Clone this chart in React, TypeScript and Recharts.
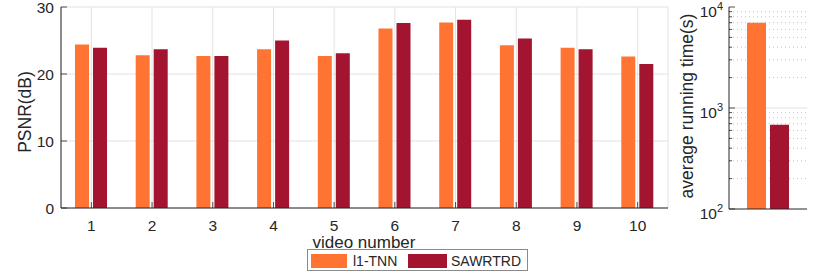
import React from 'react';
import { BarChart, Bar, XAxis, YAxis, CartesianGrid, ReferenceLine } from 'recharts';

const VIDEOS = ['1', '2', '3', '4', '5', '6', '7', '8', '9', '10'];
const PSNR_L1_TNN = [24.4, 22.8, 22.7, 23.7, 22.7, 26.8, 27.7, 24.3, 23.9, 22.6];
const PSNR_SAWRTRD = [23.9, 23.7, 22.7, 25.0, 23.1, 27.6, 28.1, 25.3, 23.7, 21.5];
const TIME_L1_TNN = 7000;
const TIME_SAWRTRD = 684;
const SERIES = ['l1-TNN', 'SAWRTRD'];
const PSNR_TICKS = [0, 10, 20, 30];
const TIME_MAJOR = [100, 1000, 10000];
const TIME_MINOR = [200, 300, 400, 500, 600, 700, 800, 900, 2000, 3000, 4000, 5000, 6000, 7000, 8000, 9000];

const ORANGE = '#FF7433';
const DARK_RED = '#A2142F';
const AXIS = '#262626';
const TEXT = '#262626';
const GRID = '#e2e2e2';
const FONT = '"Liberation Sans", Arial, Helvetica, sans-serif';

const psnrData = VIDEOS.map((v, i) => ({ video: v, l1: PSNR_L1_TNN[i], saw: PSNR_SAWRTRD[i] }));
const timeData = [{ name: 'avg', l1: TIME_L1_TNN, saw: TIME_SAWRTRD }];
const timeTicks = [...TIME_MAJOR, ...TIME_MINOR].sort((a, b) => a - b);

// MATLAB style: tick marks point into the plot box
const BottomTick = (props: any) => {
  const { x, y, payload } = props;
  return (
    <g>
      <line x1={x} y1={y} x2={x} y2={y - 6} stroke={AXIS} strokeWidth={0.8} />
      <text x={x} y={y + 23} textAnchor="middle" fontSize={15.5} fill={TEXT} fontFamily={FONT}>
        {payload.value}
      </text>
    </g>
  );
};

const TopTick = (props: any) => {
  const { x, y } = props;
  return <line x1={x} y1={y} x2={x} y2={y + 6} stroke={AXIS} strokeWidth={0.8} />;
};

const LeftTick = (props: any) => {
  const { x, y, payload } = props;
  return (
    <g>
      <line x1={x} y1={y} x2={x + 6} y2={y} stroke={AXIS} strokeWidth={0.8} />
      <text x={x - 7} y={y + 5.5} textAnchor="end" fontSize={15.5} fill={TEXT} fontFamily={FONT}>
        {payload.value}
      </text>
    </g>
  );
};

const RightTick = (props: any) => {
  const { x, y } = props;
  return <line x1={x} y1={y} x2={x - 6} y2={y} stroke={AXIS} strokeWidth={0.8} />;
};

const LogLeftTick = (props: any) => {
  const { x, y, payload } = props;
  const major = TIME_MAJOR.includes(payload.value);
  const len = major ? 6 : 3;
  return (
    <g>
      <line x1={x} y1={y} x2={x + len} y2={y} stroke={AXIS} strokeWidth={0.8} />
      {major && (
        <text x={x - 6} y={y + 9.5} textAnchor="end" fontSize={15.5} fill={TEXT} fontFamily={FONT}>
          <tspan>10</tspan>
          <tspan dy={-6.5} fontSize={11}>{Math.round(Math.log10(payload.value))}</tspan>
        </text>
      )}
    </g>
  );
};

const LogRightTick = (props: any) => {
  const { x, y, payload } = props;
  const len = TIME_MAJOR.includes(payload.value) ? 6 : 3;
  return <line x1={x} y1={y} x2={x - len} y2={y} stroke={AXIS} strokeWidth={0.8} />;
};

const timeMargin = { top: 7, right: 23, left: 0, bottom: 0 };

export default function App() {
  return (
    <div style={{ position: 'absolute', left: 0, top: 0, width: 830, height: 273, background: '#fff' }}>
      <div style={{ position: 'absolute', left: 0, top: 0 }}>
        <BarChart
          width={680}
          height={273}
          data={psnrData}
          margin={{ top: 7, right: 12, left: 0, bottom: 0 }}
          barSize={14}
          barGap={4}
        >
          <CartesianGrid stroke={GRID} />
          <XAxis
            dataKey="video"
            height={65}
            interval={0}
            tickSize={0}
            tickMargin={0}
            tick={BottomTick}
            axisLine={{ stroke: AXIS }}
          />
          <XAxis
            xAxisId="top"
            orientation="top"
            dataKey="video"
            height={0}
            interval={0}
            tickSize={0}
            tickMargin={0}
            tick={TopTick}
            axisLine={{ stroke: AXIS }}
          />
          <YAxis
            type="number"
            domain={[0, 30]}
            ticks={PSNR_TICKS}
            width={61}
            interval={0}
            tickSize={0}
            tickMargin={0}
            tick={LeftTick}
            axisLine={{ stroke: AXIS }}
          />
          <YAxis
            yAxisId="right"
            orientation="right"
            type="number"
            domain={[0, 30]}
            ticks={PSNR_TICKS}
            width={0}
            interval={0}
            tickSize={0}
            tickMargin={0}
            tick={RightTick}
            axisLine={{ stroke: AXIS }}
          />
          <Bar dataKey="l1" name={SERIES[0]} fill={ORANGE} isAnimationActive={false} />
          <Bar dataKey="saw" name={SERIES[1]} fill={DARK_RED} isAnimationActive={false} />
        </BarChart>
      </div>

      {/* grid layer for the log panel, drawn underneath the bars */}
      <div style={{ position: 'absolute', left: 680, top: 0 }}>
        <BarChart width={150} height={273} data={timeData} margin={timeMargin}>
          <XAxis dataKey="name" height={64} tick={false} tickLine={false} axisLine={false} />
          <YAxis
            type="number"
            scale="log"
            domain={[100, 10000]}
            allowDataOverflow
            ticks={TIME_MAJOR}
            width={49}
            tick={false}
            tickLine={false}
            axisLine={false}
          />
          {TIME_MINOR.map((v) => (
            <ReferenceLine key={v} y={v} stroke="#c4c4c4" strokeDasharray="1 3" />
          ))}
          <ReferenceLine y={1000} stroke={GRID} />
        </BarChart>
      </div>

      <div style={{ position: 'absolute', left: 680, top: 0 }}>
        <BarChart width={150} height={273} data={timeData} margin={timeMargin} barSize={19} barGap={4}>
          <XAxis dataKey="name" height={64} tick={false} tickLine={false} axisLine={{ stroke: AXIS }} />
          <XAxis
            xAxisId="top"
            orientation="top"
            dataKey="name"
            height={0}
            tick={false}
            tickLine={false}
            axisLine={{ stroke: AXIS }}
          />
          <YAxis
            type="number"
            scale="log"
            domain={[100, 10000]}
            allowDataOverflow
            ticks={timeTicks}
            width={49}
            interval={0}
            tickSize={0}
            tickMargin={0}
            tick={LogLeftTick}
            axisLine={{ stroke: AXIS }}
          />
          <YAxis
            yAxisId="right"
            orientation="right"
            type="number"
            scale="log"
            domain={[100, 10000]}
            allowDataOverflow
            ticks={timeTicks}
            width={0}
            interval={0}
            tickSize={0}
            tickMargin={0}
            tick={LogRightTick}
            axisLine={{ stroke: AXIS }}
          />
          <Bar dataKey="l1" name={SERIES[0]} fill={ORANGE} isAnimationActive={false} />
          <Bar dataKey="saw" name={SERIES[1]} fill={DARK_RED} isAnimationActive={false} />
        </BarChart>
      </div>

      <svg
        width={830}
        height={273}
        style={{ position: 'absolute', left: 0, top: 0, pointerEvents: 'none' }}
        fontFamily={FONT}
      >
        <text
          x={25}
          y={112}
          textAnchor="middle"
          dominantBaseline="central"
          fontSize={17.5}
          fill={TEXT}
          transform="rotate(-90, 25, 112)"
        >
          PSNR(dB)
        </text>
        <text
          x={687}
          y={106}
          textAnchor="middle"
          dominantBaseline="central"
          fontSize={17.5}
          fill={TEXT}
          transform="rotate(-90, 687, 106)"
        >
          average running time(s)
        </text>
        <text x={364} y={248} textAnchor="middle" fontSize={17} fill={TEXT}>
          video number
        </text>

        <rect x={307.5} y={249.5} width={220} height={21} fill="#fff" stroke="#8a8a8a" strokeWidth={1} />
        <rect x={311} y={254} width={36} height={14} fill={ORANGE} />
        <text x={353} y={266} fontSize={14} fill={TEXT}>{SERIES[0]}</text>
        <rect x={408} y={254} width={39} height={14} fill={DARK_RED} />
        <text x={451} y={266} fontSize={14} fill={TEXT}>{SERIES[1]}</text>
      </svg>
    </div>
  );
}
